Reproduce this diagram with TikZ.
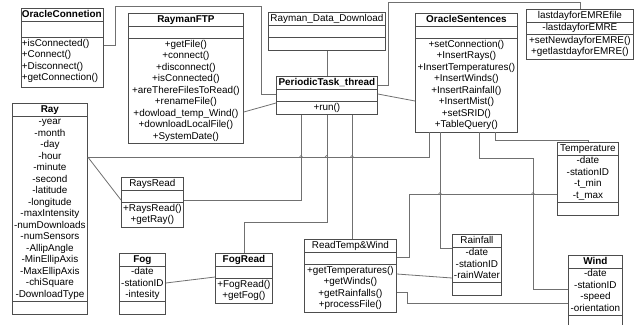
\documentclass[tikz,border=0pt]{standalone}
\usepackage{fontspec}
\setmainfont{Liberation Sans}
\usetikzlibrary{shapes.multipart}

\definecolor{boxgray}{HTML}{4D4D4D}
\definecolor{linegray}{HTML}{707070}
\newcommand{\cpart}[1]{\strut#1\strut}

\begin{document}
\begin{tikzpicture}[x=1pt,y=-1pt,
  cls/.style={rectangle split,rectangle split parts=3,draw=boxgray,line width=0.8pt,
    inner xsep=0.5pt,inner ysep=0.2pt,align=center,anchor=north west,
    font=\fontsize{9.9}{11.5}\selectfont},
  conn/.style={draw=linegray,line width=0.8pt},
  jump/.style={draw=linegray,line width=0.6pt}]

\useasboundingbox (0,0) rectangle (634,324);

\node[cls,text width=81pt,align=left] (oconn) at (21,8)
  {\cpart{\textbf{OracleConnetion}}\nodepart{second}\cpart{\rule{0pt}{12pt}}%
   \nodepart{third}\cpart{+isConnected()\\+Connect()\\+Disconnect()\\+getConnection()}\rule[-6pt]{0pt}{0pt}};

\node[cls,text width=114pt] (ftp) at (128,13)
  {\cpart{\textbf{RaymanFTP}}\nodepart{second}\cpart{}%
   \nodepart{third}\cpart{+getFile()\\+connect()\\+disconnect()\\+isConnected()\\+areThereFilesToRead()\\+renameFile()\\+dowload\_temp\_Wind()\\+downloadLocalFile()\\+SystemDate()}};

\node[cls,text width=116pt] (rdd) at (268,12)
  {\cpart{Rayman\_Data\_Download}\nodepart{second}\cpart{}\nodepart{third}\cpart{}};

\node[cls,text width=100pt] (task) at (276,76)
  {\cpart{\textbf{PeriodicTask\_thread}}\nodepart{second}\cpart{}\nodepart{third}\cpart{+run()}};

\node[cls,text width=101pt] (osent) at (415,13)
  {\cpart{\textbf{OracleSentences}}\nodepart{second}\cpart{}%
   \nodepart{third}\cpart{+setConnection()\\+InsertRays()\\+InsertTemperatures()\\+InsertWinds()\\+InsertRainfall()\\+InsertMist()\\+setSRID()\\+TableQuery()}};

\node[cls,text width=106pt] (lastday) at (526,9)
  {\cpart{lastdayforEMREfile}\nodepart{second}\cpart{-lastdayforEMRE}%
   \nodepart{third}\cpart{+setNewdayforEMRE()\\+getlastdayforEMRE()}};

\node[cls,text width=74pt] (ray) at (12,103)
  {\cpart{\textbf{Ray}}%
   \nodepart{second}\cpart{-year\\-month\\-day\\-hour\\-minute\\-second\\-latitude\\-longitude\\-maxIntensity\\-numDownloads\\-numSensors\\-AllipAngle\\-MinEllipAxis\\-MaxEllipAxis\\-chiSquare\\-DownloadType}%
   \nodepart{third}\cpart{}};

\node[cls,text width=61pt] (raysread) at (121,177)
  {\cpart{RaysRead}\nodepart{second}\cpart{}\nodepart{third}\cpart{+RaysRead()\\+getRay()}};

\node[cls,text width=45pt] (fog) at (119,253)
  {\cpart{\textbf{Fog}}\nodepart{second}\cpart{-date\\-stationID\\-intesity}\nodepart{third}\cpart{}};

\node[cls,text width=56pt] (fogread) at (215,253)
  {\cpart{\textbf{FogRead}}\nodepart{second}\cpart{}\nodepart{third}\cpart{+FogRead()\\+getFog()}};

\node[cls,text width=91pt] (rtw) at (304,239)
  {\cpart{ReadTemp\&Wind}\nodepart{second}\cpart{}%
   \nodepart{third}\cpart{+getTemperatures()\\+getWinds()\\+getRainfalls()\\+processFile()}};

\node[cls,text width=48pt] (rain) at (452,234)
  {\cpart{Rainfall}\nodepart{second}\cpart{-date\\-stationID\\-rainWater}\nodepart{third}\cpart{}};

\node[cls,text width=60pt] (temp) at (557,142)
  {\cpart{Temperature}\nodepart{second}\cpart{-date\\-stationID\\-t\_min\\-t\_max}\nodepart{third}\cpart{}};

\node[cls,text width=53pt] (wind) at (568,255)
  {\cpart{\textbf{Wind}}\nodepart{second}\cpart{-date\\-stationID\\-speed\\-orientation}\nodepart{third}\cpart{}};

\coordinate (rayrow) at ([yshift=-54]ray.north east);
\coordinate (temprow) at ([yshift=-52]temp.north west);

% PeriodicTask_thread
\draw[conn] ([yshift=-37]oconn.north east) -- ++(12,0) -- ++(0,-39) -- ++(146,0) |- ([yshift=-18]task.north west);
\draw[conn] ([yshift=-99]ftp.north east) -- ([yshift=-27]task.north west);
\draw[conn] (rdd.south) -- (task.north);
\draw[conn] ([yshift=-9]task.north east) -- ++(11,0) -- ++(0,-83) -| (lastday.north);
\draw[conn] ([yshift=-18]task.north east) -- ([yshift=-88]osent.north west);
\draw[conn] ([xshift=25]task.south west) |- ([yshift=-23]raysread.north east);
\draw[conn] (task.south) -- ++(0,107) -| (fogread.north);
\draw[conn] ([xshift=-25]task.south east) -- ([xshift=-25]task.south east |- rtw.north);

% Ray, Fog
\draw[conn] (rayrow) -| ([xshift=14]osent.south west);
\draw[conn] (rayrow) -- ([yshift=-23]raysread.north west);
\draw[conn] ([yshift=-30]fog.north east) -- ([yshift=-24]fogread.north west);

% OracleSentences
\draw[conn] ([xshift=25]osent.south west) |- ([yshift=-14]rain.north west);
\draw[conn] ([xshift=64]osent.south west) -- ++(0,26) -- ++(54,0) |- ([yshift=-34]wind.north west);
\draw[conn] ([xshift=80]osent.south west) -- ++(0,8) -| (temp.north);

% ReadTemp&Wind
\draw[conn] ([yshift=-18]rtw.north east) -- ++(13,0) |- (temprow);
\draw[conn] ([yshift=-35]rtw.north east) -- ([yshift=-44]rain.north west);
\draw[conn] ([yshift=-53]rtw.north east) -- ++(11,0) |- ([yshift=-48]wind.north west);

\foreach \s in {25,50.5,76}
{
  \draw[jump] ([xshift=\s]task.south west |- rayrow) ++(-1.5,0) arc[start angle=180,end angle=360,radius=1.5];
}
\foreach \s in {25,118}
{
  \draw[jump] ([xshift=\s]osent.south west |- temprow) ++(-1.5,0) arc[start angle=180,end angle=360,radius=1.5];
}

\end{tikzpicture}
\end{document}
